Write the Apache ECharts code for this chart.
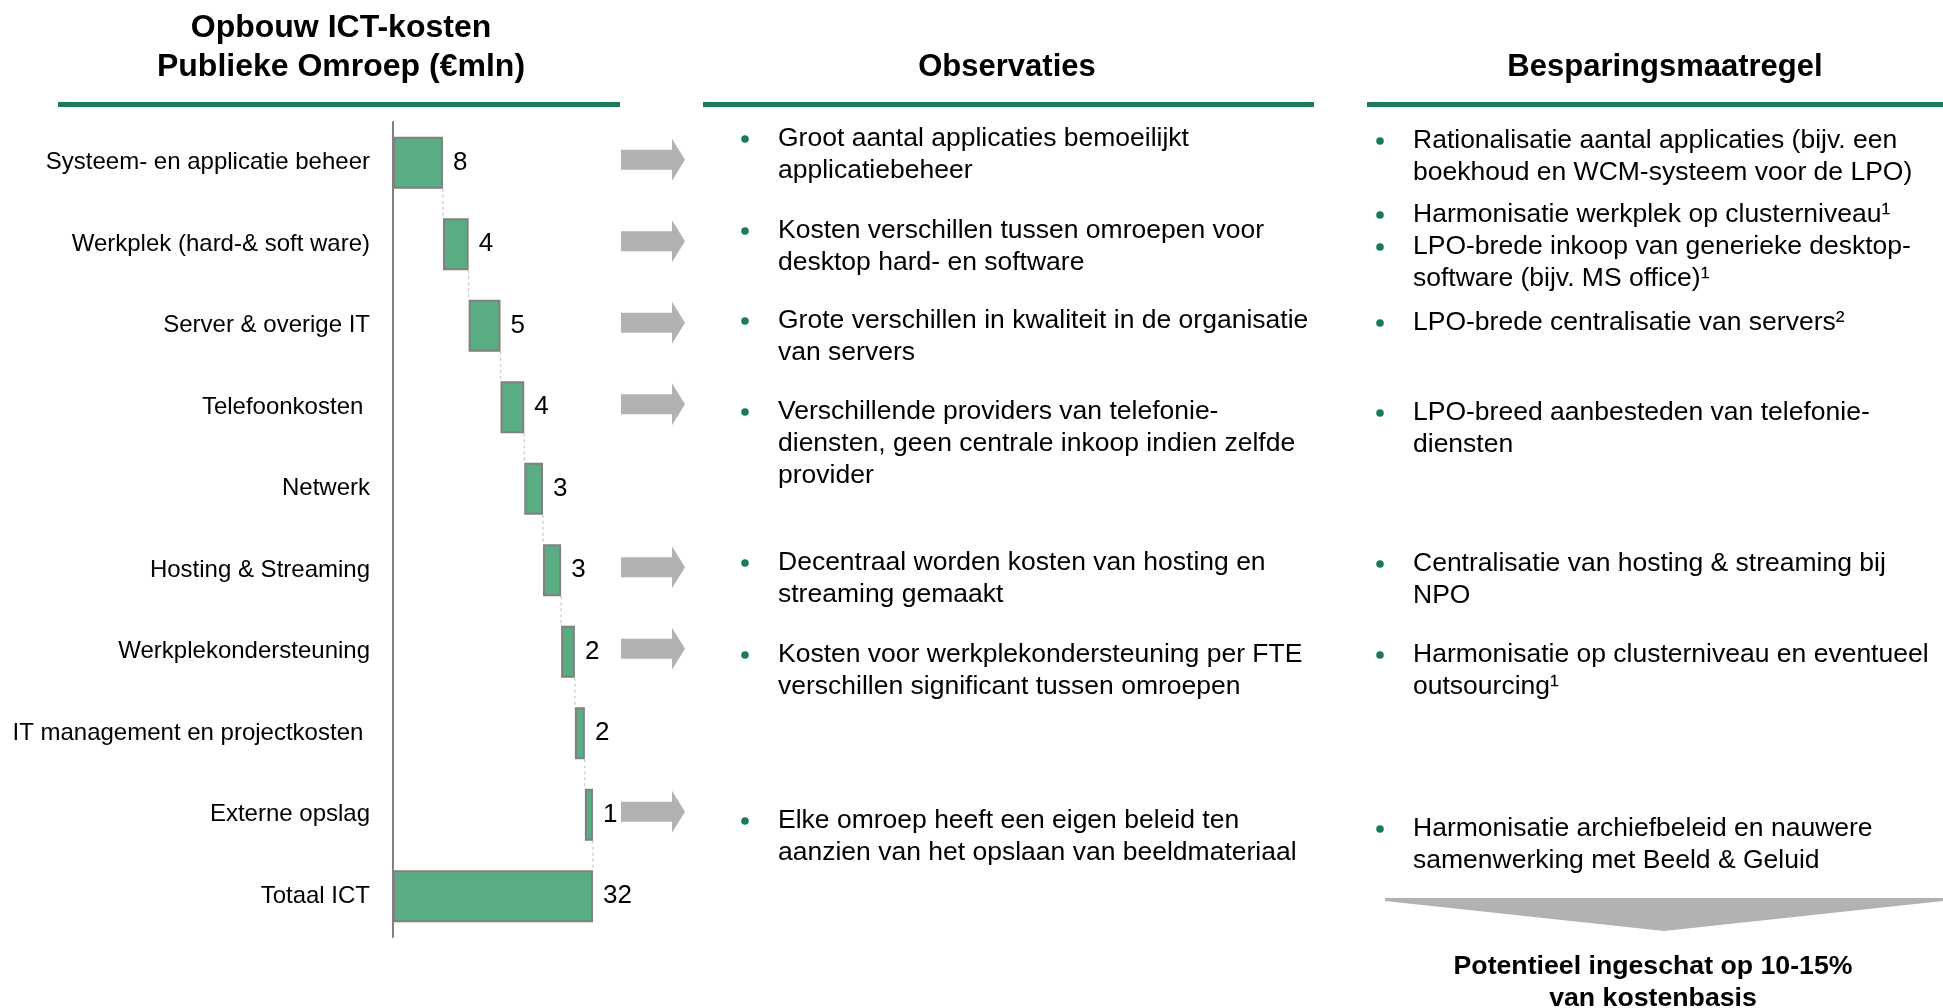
<!DOCTYPE html>
<html>
<head>
<meta charset="utf-8">
<title>Opbouw ICT-kosten</title>
<script src="https://cdn.jsdelivr.net/npm/echarts@6/dist/echarts.min.js"></script>
<style>
  html, body { margin: 0; padding: 0; background: #fff; }
  #chart { width: 1943px; height: 1008px; }
</style>
</head>
<body>
<div id="chart"></div>
<script>
// categorieen en kosten (mln euro)
const categories = [
  'Systeem- en applicatie beheer',
  'Werkplek (hard-& soft ware)',
  'Server & overige IT',
  'Telefoonkosten ',
  'Netwerk',
  'Hosting & Streaming',
  'Werkplekondersteuning',
  'IT management en projectkosten ',
  'Externe opslag',
  'Totaal ICT'
];
const costs = [8.0, 4.1, 5.1, 3.8, 3.0, 2.9, 2.2, 1.6, 1.3];
const total = 32;

// rijen met een pijl naar de observaties
const arrowRows = [0, 1, 2, 3, 5, 6, 8];

const observations = [
  ['Groot aantal applicaties bemoeilijkt', 'applicatiebeheer'],
  ['Kosten verschillen tussen omroepen voor', 'desktop hard- en software'],
  ['Grote verschillen in kwaliteit in de organisatie', 'van servers'],
  ['Verschillende providers van telefonie-', 'diensten, geen centrale inkoop indien zelfde', 'provider'],
  ['Decentraal worden kosten van hosting en', 'streaming gemaakt'],
  ['Kosten voor werkplekondersteuning per FTE', 'verschillen significant tussen omroepen'],
  ['Elke omroep heeft een eigen beleid ten', 'aanzien van het opslaan van beeldmateriaal']
];
const measures = [
  ['Rationalisatie aantal applicaties (bijv. een', 'boekhoud en WCM-systeem voor de LPO)'],
  ['Harmonisatie werkplek op clusterniveau\u00b9'],
  ['LPO-brede inkoop van generieke desktop-', 'software (bijv. MS office)\u00b9'],
  ['LPO-brede centralisatie van servers\u00b2'],
  ['LPO-breed aanbesteden van telefonie-', 'diensten'],
  ['Centralisatie van hosting & streaming bij', 'NPO'],
  ['Harmonisatie op clusterniveau en eventueel', 'outsourcing\u00b9'],
  ['Harmonisatie archiefbeleid en nauwere', 'samenwerking met Beeld & Geluid']
];

// y-positie (midden eerste regel) per bullet
const obsY = [139, 231, 321, 412, 563, 655, 821];
const measY = [141, 215, 247, 323, 413, 564, 655, 829];

const FONT = '"Liberation Sans", Arial, Helvetica, sans-serif';
const GREEN = '#1d7a56';
const BAR = '#5aad83';
const GREY = '#b2b2b2';

// onzichtbare basis voor de waterval
let base = [];
let run = 0;
costs.forEach(v => { base.push(run); run += v; });
base.push(0);
let ends = [];
run = 0;
costs.forEach(v => { run += v; ends.push(run); });

let chart = echarts.init(document.getElementById('chart'));

function bulletBlock(lines, x, y) {
  return [
    {
      type: 'circle',
      shape: {cx: x, cy: y, r: 3.8},
      style: {fill: GREEN}
    },
    {
      type: 'text',
      x: x + 33,
      y: y - 16,
      style: {
        text: lines.join('\n'),
        font: '26.5px ' + FONT,
        lineHeight: 32,
        fill: '#000',
        verticalAlign: 'top'
      }
    }
  ];
}

let graphics = [
  {
    type: 'text', x: 341, y: 48,
    style: {text: 'Opbouw ICT-kosten\nPublieke Omroep (\u20acmln)', font: 'bold 32px ' + FONT, lineHeight: 39, fill: '#000', align: 'center', verticalAlign: 'middle'}
  },
  {
    type: 'text', x: 1007, y: 67,
    style: {text: 'Observaties', font: 'bold 31px ' + FONT, fill: '#000', align: 'center', verticalAlign: 'middle'}
  },
  {
    type: 'text', x: 1665, y: 67,
    style: {text: 'Besparingsmaatregel', font: 'bold 31px ' + FONT, fill: '#000', align: 'center', verticalAlign: 'middle'}
  },
  {type: 'rect', shape: {x: 58, y: 102, width: 562, height: 5}, style: {fill: GREEN}},
  {type: 'rect', shape: {x: 703, y: 102, width: 611, height: 5}, style: {fill: GREEN}},
  {type: 'rect', shape: {x: 1367, y: 102, width: 576, height: 5}, style: {fill: GREEN}},
  {
    type: 'polygon',
    shape: {points: [[1385, 898], [1943, 898], [1943, 901], [1664, 931], [1385, 901]]},
    style: {fill: GREY}
  },
  {
    type: 'text', x: 1653, y: 983,
    style: {text: 'Potentieel ingeschat op 10-15%\nvan kostenbasis', font: 'bold 26.7px ' + FONT, lineHeight: 32, fill: '#000', align: 'center', verticalAlign: 'middle'}
  }
];
observations.forEach((lines, i) => { graphics = graphics.concat(bulletBlock(lines, 745, obsY[i])); });
measures.forEach((lines, i) => { graphics = graphics.concat(bulletBlock(lines, 1380, measY[i])); });

let option = {
  backgroundColor: '#fff',
  animation: false,
  textStyle: {fontFamily: FONT},
  grid: {left: 393, top: 122, width: 300, height: 815},
  xAxis: {type: 'value', min: 0, max: 48, show: false},
  yAxis: {
    type: 'category',
    inverse: true,
    data: categories,
    axisLine: {show: true, lineStyle: {color: '#808080', width: 2}},
    axisTick: {show: false},
    axisLabel: {fontSize: 24, color: '#000', margin: 23, fontFamily: FONT},
    splitLine: {show: false}
  },
  series: [
    {
      name: 'basis',
      type: 'bar',
      stack: 'w',
      barWidth: 52,
      silent: true,
      itemStyle: {color: 'transparent'},
      data: base
    },
    {
      name: 'kosten',
      type: 'bar',
      stack: 'w',
      barWidth: 52,
      itemStyle: {color: BAR, borderColor: '#808080', borderWidth: 2},
      label: {
        show: true,
        position: 'right',
        distance: 10,
        fontSize: 26,
        color: '#000',
        fontFamily: FONT,
        formatter: p => Math.round(p.value)
      },
      data: costs.concat([total])
    },
    {
      // stippellijnen tussen de balken
      name: 'verbinding',
      type: 'custom',
      silent: true,
      data: ends.map((e, i) => [e, i]),
      renderItem: (params, api) => {
        let i = api.value(1);
        let p1 = api.coord([api.value(0), i]);
        let p2 = api.coord([api.value(0), i + 1]);
        return {
          type: 'line',
          shape: {x1: p1[0], y1: p1[1] + 26, x2: p2[0], y2: p2[1] - 26},
          style: {stroke: '#c8c8c8', lineWidth: 1.2, lineDash: [3, 3]}
        };
      }
    },
    {
      name: 'pijlen',
      type: 'custom',
      silent: true,
      clip: false,
      data: arrowRows.map(r => [0, r]),
      renderItem: (params, api) => {
        let y = api.coord([0, api.value(1)])[1] - 3;
        return {
          type: 'polygon',
          shape: {points: [[621, y - 10], [672, y - 10], [672, y - 21], [685, y], [672, y + 21], [672, y + 10], [621, y + 10]]},
          style: {fill: GREY}
        };
      }
    }
  ],
  graphic: graphics
};

chart.setOption(option);
</script>
</body>
</html>
